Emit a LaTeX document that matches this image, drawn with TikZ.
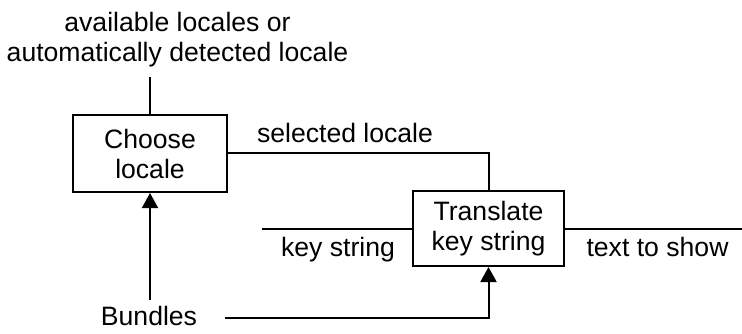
\documentclass[tikz,border=0pt]{standalone}
\usepackage{fontspec}
\setmainfont{Liberation Sans}
\usetikzlibrary{arrows.meta}
\begin{document}
\begin{tikzpicture}[x=0.5pt,y=-0.5pt,
  font=\fontsize{13.3}{15}\selectfont,
  every path/.style={line width=1pt},
  procbox/.style={draw, rectangle, align=center, inner sep=0pt},
  lbl/.style={anchor=base, inner sep=0pt},
  flow/.style={-{Triangle[length=7.5pt,width=8pt]}}]
\useasboundingbox (0,0) rectangle (742,333);

% processes
\node[procbox, minimum width=77pt, minimum height=38.5pt] (choose) at (150,153.5) {Choose\\locale};
\node[procbox, minimum width=75.5pt, minimum height=37.5pt] (translate) at (488.5,228.5) {Translate\\key string};

% external inputs and outputs
\node[align=center, inner xsep=0pt, inner ysep=4.5pt] (avail) at (177.5,40) {available locales or\\automatically detected locale};
\node[inner sep=2.5pt] (bundles) at (149,316) {Bundles};
\coordinate (bstart) at (225,318);
\coordinate (keyin) at (262,229);
\coordinate (textout) at (742,229);

% flows
\draw (choose.north) -- (choose.north |- avail.south);
\draw (choose.east |- 0,153) -| (translate.north);
\node[lbl] (sellbl) at (345,142) {selected locale};
\draw[flow] (bundles.north -| choose.south) -- (choose.south);
\draw[flow] (bstart) -| (translate.south);
\draw (keyin) -- (keyin -| translate.west);
\node[lbl] (keylbl) at (338,256) {key string};
\draw (translate.east |- textout) -- (textout);
\node[lbl] (textlbl) at (657.5,256) {text to show};
\end{tikzpicture}
\end{document}
